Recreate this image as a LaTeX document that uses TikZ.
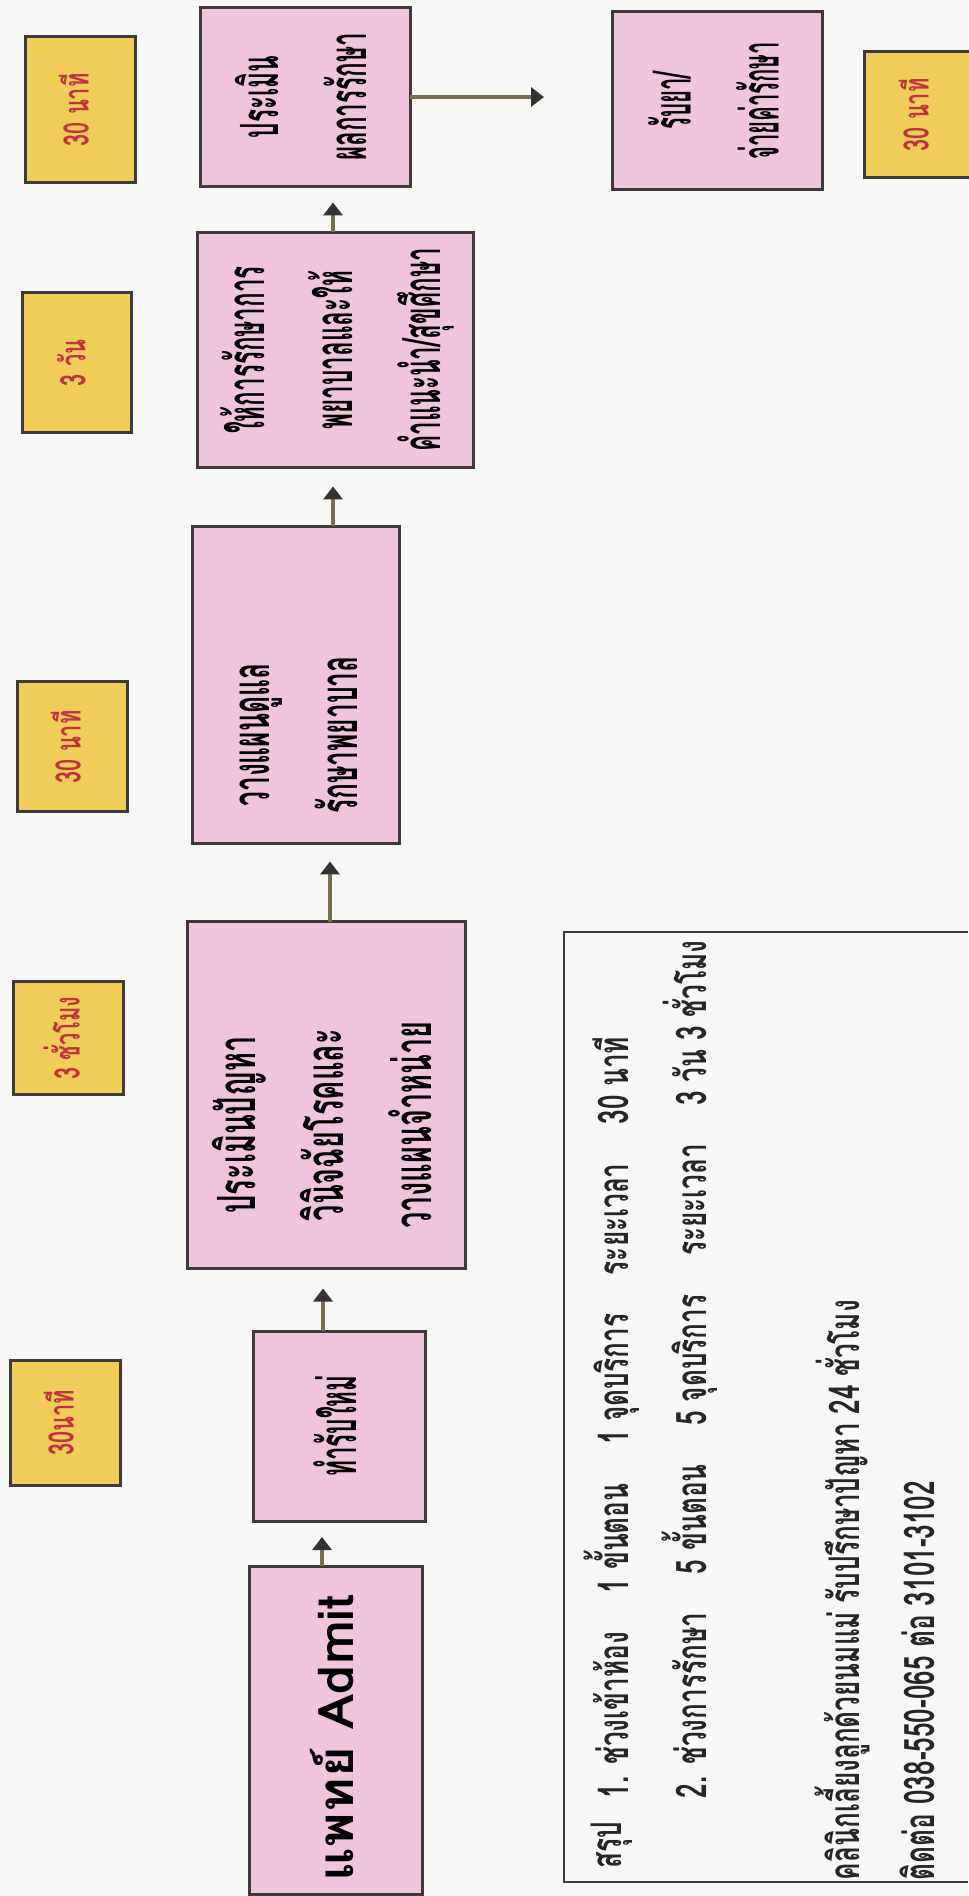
\documentclass[tikz,border=0pt]{standalone}
\usepackage{fontspec}
\usepackage{graphicx}
\usepackage{xcolor}
\usetikzlibrary{arrows.meta}
\newfontfamily\thaifont[Script=Thai, FakeStretch=0.5]{Loma}
\newfontfamily\thaimid[Script=Thai, FakeStretch=0.55]{Loma}
\newfontfamily\thaislim[Script=Thai, FakeStretch=0.46]{Loma}
\newfontfamily\thaithin[Script=Thai, FakeStretch=0.42]{Loma}
\newfontfamily\thainote[Script=Thai, FakeStretch=0.62]{Loma}
\newfontfamily\thaiwide[Script=Thai, FakeStretch=1.07]{Loma}
\newcommand{\vtext}[2][0mm]{\rotatebox{90}{\begin{tabular}{@{}c@{}}#2\end{tabular}\hspace{#1}}}
\definecolor{boxpink}{RGB}{241,196,222}
\definecolor{boxyellow}{RGB}{240,204,88}
\definecolor{timered}{RGB}{192,52,64}
\definecolor{edgegray}{RGB}{62,58,58}
\definecolor{paper}{RGB}{247,247,245}
\definecolor{shaft}{RGB}{122,110,82}

\begin{document}
\begin{tikzpicture}[
        x=0.1mm, y=-0.1mm,
        every node/.style={inner sep=0pt, outer sep=0pt},
        stepbox/.style={draw=edgegray, line width=0.3mm, fill=boxpink, font=\thaifont\bfseries\fontsize{15}{25}\selectfont},
        timebox/.style={draw=edgegray, line width=0.3mm, fill=boxyellow, text=timered, font=\thainote\bfseries\fontsize{10}{12}\selectfont},
        note/.style={rotate=90, anchor=west, text=black!85, font=\thainote\bfseries\fontsize{12}{14}\selectfont},
        flow/.style={draw=shaft, line width=0.35mm, -{Triangle[length=1.3mm, width=1.9mm, color=black!80, fill=black!80]}}
    ]
    \useasboundingbox (0,0) rectangle (968,1896);
    \fill[paper] (0,0) rectangle (968,1896);

    % Time Boxes
    \node[timebox, minimum width=11mm, minimum height=12.5mm] (t1) at (65,1423) {\vtext{30นาที}};
    \node[timebox, minimum width=11mm, minimum height=11.3mm] (t2) at (68,1038) {\vtext{3 ชั่วโมง}};
    \node[timebox, minimum width=11mm, minimum height=13mm] (t3) at (72,747) {\vtext{30 นาที}};
    \node[timebox, minimum width=10.9mm, minimum height=14mm] (t4) at (77,363) {\vtext{3 วัน}};
    \node[timebox, minimum width=11mm, minimum height=14.6mm] (t5) at (80,110) {\vtext{30 นาที}};
    \node[timebox, minimum width=11.2mm, minimum height=12.6mm] (t6) at (920,115) {\vtext{30 นาที}};

    % Step Boxes
    \node[stepbox, font=\thaiwide\bfseries\fontsize{14}{25}\selectfont, minimum width=17.3mm, minimum height=32.8mm] (admit) at (336,1730) {\vtext[1.6mm]{แพทย์ Admit}};
    \node[stepbox, font=\thaislim\bfseries\fontsize{15}{25}\selectfont, minimum width=17.2mm, minimum height=19mm] (newcase) at (339,1426) {\vtext{ทำรับใหม่}};
    \node[stepbox, font=\thaimid\bfseries\fontsize{15}{25}\selectfont, minimum width=27.8mm, minimum height=34.7mm] (assess) at (326,1095) {\vtext[6mm]{ประเมินปัญหา\\วินิจฉัยโรคและ\\วางแผนจำหน่าย}};
    \node[stepbox, minimum width=20.7mm, minimum height=31.7mm] (plan) at (296,685) {\vtext[10mm]{วางแผนดูแล\\รักษาพยาบาล}};
    \node[stepbox, font=\thaislim\bfseries\fontsize{15}{25}\selectfont, minimum width=27.6mm, minimum height=23.5mm] (treat) at (335,350) {\vtext{ให้การรักษาการ\\พยาบาลและให้\\คำแนะนำ/สุขศึกษา}};
    \node[stepbox, font=\thaislim\bfseries\fontsize{15}{25}\selectfont, minimum width=21mm, minimum height=17.9mm] (evaluate) at (305,97) {\vtext{ประเมิน\\ผลการรักษา}};
    \node[stepbox, font=\thaithin\bfseries\fontsize{15}{25}\selectfont, minimum width=21mm, minimum height=17.8mm] (discharge) at (717,101) {\vtext{รับยา/\\จ่ายค่ารักษา}};

    % Draw Arrows
    \draw[flow, shorten >=1.6mm] (322,0 |- admit.north) -- (322,0 |- newcase.south);
    \draw[flow, shorten >=2mm] (323,0 |- newcase.north) -- (323,0 |- assess.south);
    \draw[flow, shorten >=1.8mm] (330,0 |- assess.north) -- (330,0 |- plan.south);
    \draw[flow, shorten >=1.9mm] (333,0 |- plan.north) -- (333,0 |- treat.south);
    \draw[flow, shorten >=1.6mm] (333,0 |- treat.north) -- (333,0 |- evaluate.south);
    \draw[flow, shorten >=6.8mm] (evaluate.east) -- (evaluate.east -| discharge.west);

    % Summary
    \draw[edgegray, line width=0.2mm] (968,932) -- (564,932) -- (564,1882) -- (968,1882);
    \node[note] (sumhead) at (612,1868) {สรุป};
    \node[note] (sum1) at (612,1798) {1. ช่วงเข้าห้อง\hspace{3mm} 1 ขั้นตอน\hspace{3mm} 1 จุดบริการ\hspace{3mm} ระยะเวลา\hspace{3mm} 30 นาที};
    \node[note] (sum2) at (690,1798) {2. ช่วงการรักษา\hspace{3mm} 5 ขั้นตอน\hspace{3mm} 5 จุดบริการ\hspace{3mm} ระยะเวลา\hspace{3mm} 3 วัน 3 ชั่วโมง};
    \node[note] (sum3) at (842,1880) {คลินิกเลี้ยงลูกด้วยนมแม่ รับปรึกษาปัญหา 24 ชั่วโมง};
    \node[note] (sum4) at (917,1880) {ติดต่อ 038-550-065 ต่อ 3101-3102};
\end{tikzpicture}
\end{document}
